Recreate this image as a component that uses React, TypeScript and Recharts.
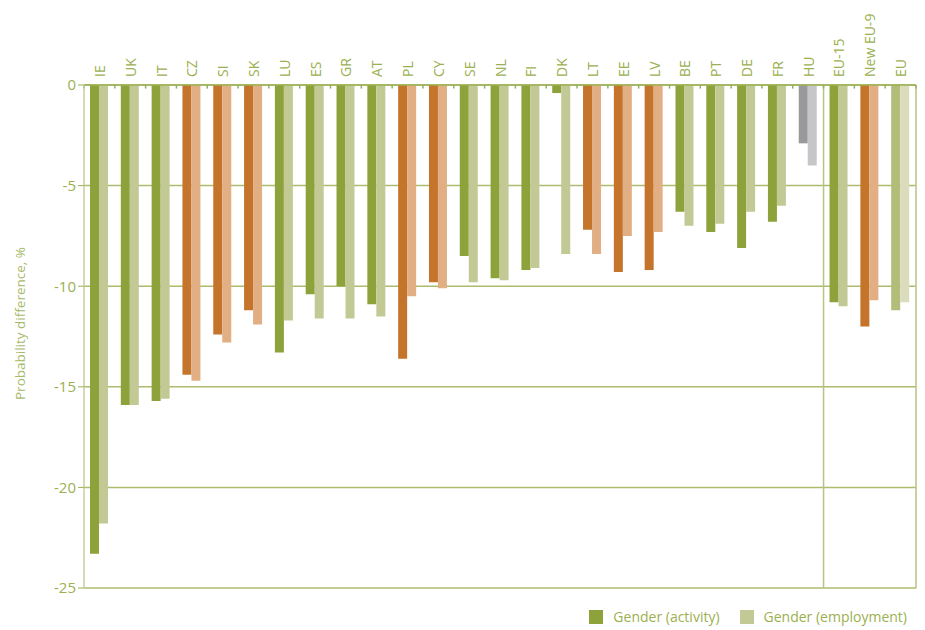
import React from "react";
import { Bar, BarChart, CartesianGrid, Cell, Legend, ReferenceLine, XAxis, YAxis } from "recharts";

const categories = ["IE", "UK", "IT", "CZ", "SI", "SK", "LU", "ES", "GR", "AT", "PL", "CY", "SE", "NL", "FI", "DK", "LT", "EE", "LV", "BE", "PT", "DE", "FR", "HU", "EU-15", "New EU-9", "EU"];
const groups = ["old", "old", "old", "new", "new", "new", "old", "old", "old", "old", "new", "new", "old", "old", "old", "old", "new", "new", "new", "old", "old", "old", "old", "hu", "old", "new", "eu"];
const activity = [-23.3, -15.9, -15.7, -14.4, -12.4, -11.2, -13.3, -10.4, -10.0, -10.9, -13.6, -9.8, -8.5, -9.6, -9.2, -0.4, -7.2, -9.3, -9.2, -6.3, -7.3, -8.1, -6.8, -2.9, -10.8, -12.0, -11.2];
const employment = [-21.8, -15.9, -15.6, -14.7, -12.8, -11.9, -11.7, -11.6, -11.6, -11.5, -10.5, -10.1, -9.8, -9.7, -9.1, -8.4, -8.4, -7.5, -7.3, -7.0, -6.9, -6.3, -6.0, -4.0, -11.0, -10.7, -10.8];
const yTicks = [0, -5, -10, -15, -20, -25];
const separatorAfter = "HU";

const darkColors: Record<string, string> = { old: "#8da23b", new: "#c5752b", hu: "#999999", eu: "#b3bc78" };
const lightColors: Record<string, string> = { old: "#c3c995", new: "#e2af85", hu: "#c6c6c8", eu: "#dbdcbc" };

const textColor = "#9bb051";
const font = "'Open Sans', sans-serif";

// pos = centre of each category on a 0..n numeric scale, used for the separator lines
const data = categories.map((name, i) => ({
  name,
  pos: i + 0.5,
  group: groups[i],
  activity: activity[i],
  employment: employment[i]
}));

const boundaries = Array.from({ length: categories.length + 1 }, (_, i) => i);

function TopTick(props: any) {
  const { x, y, payload } = props;
  return (
    <text
      transform={`translate(${x},${y}) rotate(-90)`}
      textAnchor="start"
      dominantBaseline="central"
      fill={textColor}
      fontSize={14}
      fontFamily={font}
    >
      {payload.value}
    </text>
  );
}

function AxisTitle(props: any) {
  const { viewBox } = props;
  const cy = viewBox.y + viewBox.height / 2 - 13;
  return (
    <text
      transform={`translate(20,${cy}) rotate(-90)`}
      textAnchor="middle"
      dominantBaseline="central"
      fill="#a8b96a"
      fontSize={13.5}
      fontFamily={font}
    >
      Probability difference, %
    </text>
  );
}

function LegendBox() {
  const item = (color: string, label: string) => (
    <span style={{ display: "inline-flex", alignItems: "center", marginLeft: 20 }}>
      <span style={{ width: 14, height: 14, background: color, display: "inline-block", marginRight: 10 }} />
      <span>{label}</span>
    </span>
  );
  return (
    <div style={{ display: "flex", justifyContent: "flex-end", color: textColor, fontSize: 14, fontFamily: font, paddingTop: 19, paddingRight: 9 }}>
      {item(darkColors.old, "Gender (activity)")}
      {item(lightColors.old, "Gender (employment)")}
    </div>
  );
}

export default function App() {
  return (
    <div style={{ position: "absolute", left: 0, top: 0, width: 925, height: 630, background: "#fff" }}>
      <BarChart
        width={925}
        height={630}
        data={data}
        margin={{ top: 0, right: 9, bottom: 0, left: 0 }}
        barGap={0}
        barSize={9}
      >
        <CartesianGrid vertical={false} stroke="#adbc6c" strokeWidth={1.5} />
        <XAxis
          dataKey="name"
          orientation="top"
          height={85}
          interval={0}
          tick={<TopTick />}
          tickLine={false}
          axisLine={{ stroke: "#9cb055", strokeWidth: 1.5 }}
        />
        <XAxis xAxisId="n" dataKey="pos" type="number" domain={[0, categories.length]} allowDataOverflow hide />
        <YAxis
          width={84}
          domain={[-25, 0]}
          ticks={yTicks}
          interval={0}
          tick={{ fill: textColor, fontSize: 15, fontFamily: font }}
          tickLine={{ stroke: "#9cb055" }}
          axisLine={{ stroke: "#c6cc9e", strokeWidth: 1.5 }}
          label={<AxisTitle />}
        />
        <ReferenceLine xAxisId="n" x={categories.indexOf(separatorAfter) + 1} stroke="#b8c282" strokeWidth={1.5} />
        <ReferenceLine xAxisId="n" x={categories.length} stroke="#b8c282" strokeWidth={1.5} ifOverflow="extendDomain" />
        {boundaries.map((b) => (
          <ReferenceLine
            key={b}
            xAxisId="n"
            segment={[{ x: b, y: 0 }, { x: b, y: -0.18 }]}
            stroke="#8fb060"
            strokeWidth={1.5}
          />
        ))}
        <Legend verticalAlign="bottom" align="right" content={<LegendBox />} wrapperStyle={{ height: 42 }} />
        <Bar dataKey="activity" name="Gender (activity)" isAnimationActive={false}>
          {data.map((d) => (
            <Cell key={d.name} fill={darkColors[d.group]} />
          ))}
        </Bar>
        <Bar dataKey="employment" name="Gender (employment)" isAnimationActive={false}>
          {data.map((d) => (
            <Cell key={d.name} fill={lightColors[d.group]} />
          ))}
        </Bar>
      </BarChart>
    </div>
  );
}
